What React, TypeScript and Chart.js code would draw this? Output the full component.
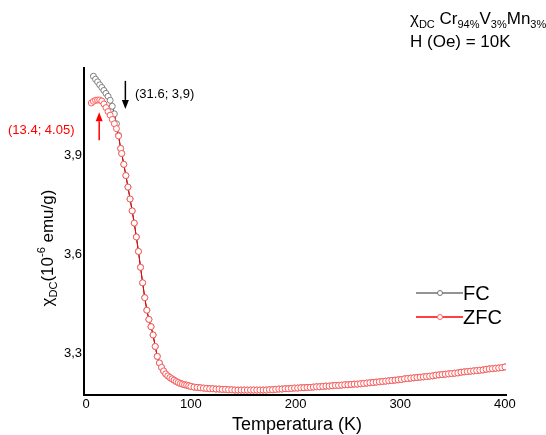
import React, { useEffect, useRef } from "react";
import { Chart, registerables } from "chart.js";

Chart.register(...registerables);

// Low-temperature branches (K, 10^-6 emu/g)
const fcLowT = [7, 9, 11, 13, 15, 17, 19, 21, 23, 25, 27, 29, 31, 33];
const fcLowChi = [4.139, 4.130, 4.122, 4.113, 4.105, 4.096, 4.087, 4.078, 4.066, 4.048, 4.025, 3.995, 3.960, 3.920];

const zfcLowT = [5, 7, 9, 11, 13, 15, 17, 19, 21, 23, 25, 27, 29, 31, 33];
const zfcLowChi = [4.058, 4.063, 4.066, 4.067, 4.067, 4.064, 4.055, 4.044, 4.032, 4.021, 4.008, 3.995, 3.980, 3.958, 3.920];

// Above ~34 K both curves coincide
const highT = [
  34, 36, 38, 40, 42, 44, 46, 48, 50, 52, 54, 56, 58, 60, 62, 64, 66, 68, 70, 72, 74, 76, 78, 80,
  82, 84, 86, 88, 90, 92, 94, 96, 98, 100, 103, 106, 109, 112, 115, 118, 121, 124, 127, 130, 133,
  136, 139, 142, 145, 148, 151, 154, 157, 160, 163, 166, 169, 172, 175, 178, 181, 184, 187, 190,
  193, 196, 199, 202, 205, 208, 211, 214, 217, 220, 223, 226, 229, 232, 235, 238, 241, 244, 247,
  250, 253, 256, 259, 262, 265, 268, 271, 274, 277, 280, 283, 286, 289, 292, 295, 298, 301, 304,
  307, 310, 313, 316, 319, 322, 325, 328, 331, 334, 337, 340, 343, 346, 349, 352, 355, 358, 361,
  364, 367, 370, 373, 376, 379, 382, 385, 388, 391, 394, 397, 400,
];
const highChi = [
  3.905, 3.872, 3.838, 3.803, 3.767, 3.731, 3.694, 3.652, 3.608, 3.560, 3.513, 3.468, 3.430, 3.402,
  3.380, 3.355, 3.320, 3.290, 3.270, 3.257, 3.246, 3.237, 3.231, 3.226, 3.222, 3.218, 3.214, 3.211,
  3.208, 3.206, 3.204, 3.203, 3.201, 3.199, 3.197, 3.196, 3.195, 3.194, 3.193, 3.192, 3.192, 3.191,
  3.191, 3.190, 3.190, 3.189, 3.189, 3.188, 3.188, 3.188, 3.188, 3.188, 3.188, 3.188, 3.188, 3.188,
  3.188, 3.188, 3.189, 3.189, 3.190, 3.191, 3.191, 3.192, 3.192, 3.193, 3.194, 3.194, 3.195, 3.195,
  3.196, 3.196, 3.197, 3.198, 3.198, 3.199, 3.200, 3.200, 3.201, 3.202, 3.202, 3.203, 3.204, 3.204,
  3.205, 3.206, 3.206, 3.207, 3.208, 3.209, 3.210, 3.211, 3.212, 3.213, 3.214, 3.215, 3.216, 3.217,
  3.218, 3.219, 3.220, 3.222, 3.223, 3.224, 3.225, 3.226, 3.227, 3.228, 3.229, 3.230, 3.231, 3.233,
  3.234, 3.235, 3.236, 3.237, 3.238, 3.239, 3.240, 3.242, 3.243, 3.244, 3.245, 3.246, 3.247, 3.248,
  3.249, 3.251, 3.252, 3.253, 3.254, 3.255, 3.256, 3.258,
];

const xTicks = [0, 100, 200, 300, 400];
const yTicks = [3.3, 3.6, 3.9];

const FONT = "'Liberation Sans', Arial, sans-serif";

function pts(t: number[], c: number[]) {
  return t.map((x, i) => ({ x, y: c[i] }));
}

function drawRich(
  ctx: CanvasRenderingContext2D,
  parts: { t: string; size: number; dy: number }[],
  x: number,
  y: number
) {
  let cx = x;
  for (const p of parts) {
    ctx.font = `${p.size}px ${FONT}`;
    ctx.fillText(p.t, cx, y + p.dy);
    cx += ctx.measureText(p.t).width;
  }
  return cx - x;
}

function richWidth(ctx: CanvasRenderingContext2D, parts: { t: string; size: number; dy: number }[]) {
  let w = 0;
  for (const p of parts) {
    ctx.font = `${p.size}px ${FONT}`;
    w += ctx.measureText(p.t).width;
  }
  return w;
}

function arrow(ctx: CanvasRenderingContext2D, x: number, y0: number, y1: number, color: string) {
  const dir = y1 > y0 ? 1 : -1;
  const head = 9;
  ctx.save();
  ctx.strokeStyle = color;
  ctx.fillStyle = color;
  ctx.lineWidth = 1.5;
  ctx.beginPath();
  ctx.moveTo(x, y0);
  ctx.lineTo(x, y1 - dir * head);
  ctx.stroke();
  ctx.beginPath();
  ctx.moveTo(x, y1);
  ctx.lineTo(x - 3.5, y1 - dir * head);
  ctx.lineTo(x + 3.5, y1 - dir * head);
  ctx.closePath();
  ctx.fill();
  ctx.restore();
}

const overlay = {
  id: "overlay",
  afterDraw(chart: any) {
    const ctx: CanvasRenderingContext2D = chart.ctx;
    const xs = chart.scales.x;
    const ys = chart.scales.y;
    ctx.save();
    ctx.textBaseline = "alphabetic";
    ctx.textAlign = "left";
    ctx.fillStyle = "#000";

    // Title top right
    drawRich(
      ctx,
      [
        { t: "χ", size: 17, dy: 0 },
        { t: "DC", size: 11, dy: 4 },
        { t: " Cr", size: 17, dy: 0 },
        { t: "94%", size: 11, dy: 4 },
        { t: "V", size: 17, dy: 0 },
        { t: "3%", size: 11, dy: 4 },
        { t: "Mn", size: 17, dy: 0 },
        { t: "3%", size: 11, dy: 4 },
      ],
      410,
      24
    );
    ctx.font = `17px ${FONT}`;
    ctx.fillText("H (Oe) = 10K", 410, 47);

    // Y axis title (rotated)
    const yParts = [
      { t: "χ", size: 17, dy: 0 },
      { t: "DC", size: 11, dy: 4 },
      { t: "(10", size: 17, dy: 0 },
      { t: "-6", size: 11, dy: -8 },
      { t: " emu/g)", size: 17, dy: 0 },
    ];
    const yw = richWidth(ctx, yParts);
    ctx.save();
    ctx.translate(53, 248);
    ctx.rotate(-Math.PI / 2);
    drawRich(ctx, yParts, -yw / 2, 0);
    ctx.restore();

    // X axis title
    ctx.font = `18px ${FONT}`;
    ctx.textAlign = "center";
    ctx.fillText("Temperatura (K)", 297, 430);
    ctx.textAlign = "left";

    // Annotations
    ctx.font = `13px ${FONT}`;
    ctx.fillStyle = "#000";
    ctx.fillText("(31.6; 3,9)", 135, 98);
    ctx.fillStyle = "#ff0000";
    ctx.fillText("(13.4; 4.05)", 8, 134);
    const bx = xs.getPixelForValue(37.5);
    arrow(ctx, bx, ys.getPixelForValue(4.125), ys.getPixelForValue(4.04), "#000");
    const rx = xs.getPixelForValue(12.5);
    arrow(ctx, rx, ys.getPixelForValue(3.945), ys.getPixelForValue(4.03), "#ff0000");

    // Legend
    const items = [
      { label: "FC", line: "#707070", mark: "#707070", y: 293 },
      { label: "ZFC", line: "#ff0000", mark: "#ff6060", y: 317 },
    ];
    for (const it of items) {
      ctx.strokeStyle = it.line;
      ctx.lineWidth = 1.5;
      ctx.beginPath();
      ctx.moveTo(416, it.y);
      ctx.lineTo(463, it.y);
      ctx.stroke();
      ctx.beginPath();
      ctx.arc(440, it.y, 2.5, 0, Math.PI * 2);
      ctx.fillStyle = "#fff";
      ctx.fill();
      ctx.strokeStyle = it.mark;
      ctx.lineWidth = 1;
      ctx.stroke();
      ctx.fillStyle = "#000";
      ctx.font = `20px ${FONT}`;
      ctx.fillText(it.label, 463, it.y + 7);
    }
    ctx.restore();
  },
};

export default function App() {
  const ref = useRef<HTMLCanvasElement>(null);
  useEffect(() => {
    document.body.style.margin = "0";
    const canvas = ref.current!;
    const fcData = [...pts(fcLowT, fcLowChi), ...pts(highT, highChi)];
    const zfcData = [...pts(zfcLowT, zfcLowChi), ...pts(highT, highChi)];
    const chart = new Chart(canvas, {
      type: "scatter",
      data: {
        datasets: [
          {
            label: "ZFC",
            data: zfcData,
            showLine: true,
            borderColor: "#ff0000",
            borderWidth: 1,
            pointRadius: 3,
            pointBorderWidth: 1,
            pointBorderColor: "#ff5a5a",
            pointBackgroundColor: "#ffffff",
            order: 0,
          },
          {
            label: "FC",
            data: fcData,
            showLine: true,
            borderColor: "#222222",
            borderWidth: 1,
            pointRadius: 3,
            pointBorderWidth: 1,
            pointBorderColor: "#808080",
            pointBackgroundColor: "#ffffff",
            order: 1,
          },
        ],
      },
      options: {
        animation: false,
        responsive: false,
        devicePixelRatio: 1,
        layout: { padding: { left: 0, top: 68, right: 40, bottom: 0 } },
        plugins: { legend: { display: false }, tooltip: { enabled: false } },
        scales: {
          x: {
            type: "linear",
            min: -2,
            max: 401,
            grid: { display: false, drawTicks: false },
            border: { display: true, color: "#000", width: 2 },
            ticks: {
              color: "#000",
              font: { family: FONT, size: 13 },
              padding: 2,
              maxRotation: 0,
            },
            afterBuildTicks: (s: any) => {
              s.ticks = xTicks.map((v) => ({ value: v }));
            },
            afterFit: (s: any) => {
              s.height = 40;
            },
          },
          y: {
            type: "linear",
            min: 3.173,
            max: 4.164,
            grid: { display: false, drawTicks: false },
            border: { display: true, color: "#000", width: 2 },
            ticks: {
              color: "#000",
              font: { family: FONT, size: 13 },
              padding: 2,
              callback: (v: any) => Number(v).toFixed(1).replace(".", ","),
            },
            afterBuildTicks: (s: any) => {
              s.ticks = yTicks.map((v) => ({ value: v }));
            },
            afterFit: (s: any) => {
              s.width = 84;
            },
          },
        },
      },
      plugins: [overlay],
    });
    return () => chart.destroy();
  }, []);
  return (
    <div style={{ position: "absolute", left: 0, top: 0, width: 546, height: 435 }}>
      <canvas ref={ref} width={546} height={435} style={{ width: 546, height: 435 }} />
    </div>
  );
}
